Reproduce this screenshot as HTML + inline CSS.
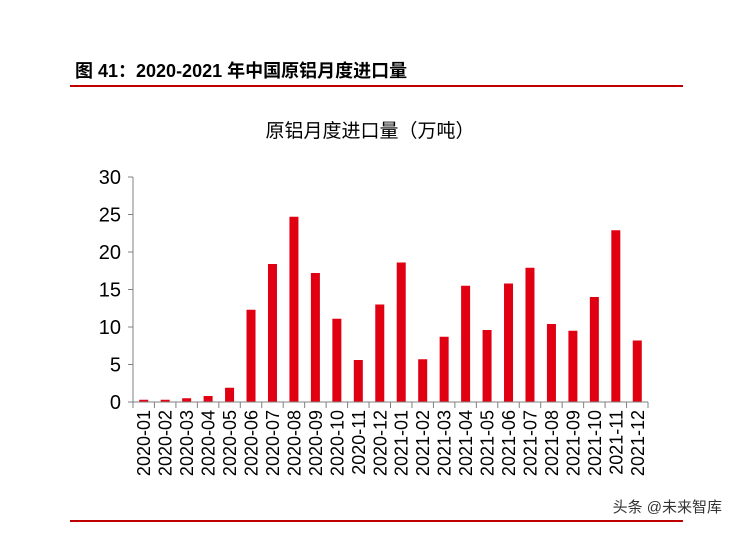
<!DOCTYPE html>
<html><head><meta charset="utf-8">
<style>
body{margin:0;background:#fff;}
svg text{font-family:"Liberation Sans","Noto Sans CJK SC",sans-serif;}
</style></head>
<body>
<svg width="740" height="531" viewBox="0 0 740 531" xmlns="http://www.w3.org/2000/svg">
<text x="75" y="77" font-size="18" font-weight="bold" fill="#000">图 41：2020-2021 年中国原铝月度进口量</text>
<rect x="70" y="85" width="613" height="2" fill="#c00000"/>
<text x="370" y="137" font-size="19" text-anchor="middle" fill="#000">原铝月度进口量（万吨）</text>
<g id="plot"></g>
<rect x="70" y="520" width="613" height="2" fill="#c00000"/>
<text x="722" y="512" font-size="15" text-anchor="end" fill="#333">头条 @未来智库</text>
</svg>
<script>
const categories=["2020-01","2020-02","2020-03","2020-04","2020-05","2020-06","2020-07","2020-08","2020-09","2020-10","2020-11","2020-12","2021-01","2021-02","2021-03","2021-04","2021-05","2021-06","2021-07","2021-08","2021-09","2021-10","2021-11","2021-12"];
const values=[0.3,0.3,0.5,0.8,1.9,12.3,18.4,24.7,17.2,11.1,5.6,13.0,18.6,5.7,8.7,15.5,9.6,15.8,17.9,10.4,9.5,14.0,22.9,8.2];
const yTicks=[0,5,10,15,20,25,30];
const NS="http://www.w3.org/2000/svg";
const g=document.getElementById('plot');
const x0=133,x1=648,yb=402,yt=177,ymax=30;
const step=(x1-x0)/categories.length;
const ys=v=>yb-(v/ymax)*(yb-yt);
const xc=i=>x0+step*(i+0.5);
function mk(t,a){const e=document.createElementNS(NS,t);for(const k in a)e.setAttribute(k,a[k]);g.appendChild(e);return e;}
values.forEach((v,i)=>{
 const r=mk('rect',{x:xc(i)-4.5,y:ys(v),width:9,height:yb-ys(v),fill:'#e00012'});
 
 
});
const ya=mk('line',{x1:x0,y1:yt,x2:x0,y2:yb,stroke:'#808080','stroke-width':1});


yTicks.forEach(t=>{
 const l=mk('line',{x1:x0-5,y1:ys(t),x2:x0,y2:ys(t),stroke:'#808080'});
 
 
 const tx=mk('text',{x:x0-12,y:ys(t)+7,'font-size':20,'text-anchor':'end',fill:'#000'});
 tx.textContent=t;
 
 
});
const xa=mk('line',{x1:x0-5,y1:yb,x2:x1,y2:yb,stroke:'#808080'});


for(let i=0;i<=categories.length;i++){
 const l=mk('line',{x1:x0+step*i,y1:yb,x2:x0+step*i,y2:yb+6,stroke:'#808080'});
 
 
}
categories.forEach((c,i)=>{
 const tx=mk('text',{x:0,y:0,'font-size':18,'text-anchor':'end',fill:'#000',transform:`translate(${xc(i)+6.5},${yb+8}) rotate(-90)`});
 tx.textContent=c;
 
 
});
</script>
</body></html>
